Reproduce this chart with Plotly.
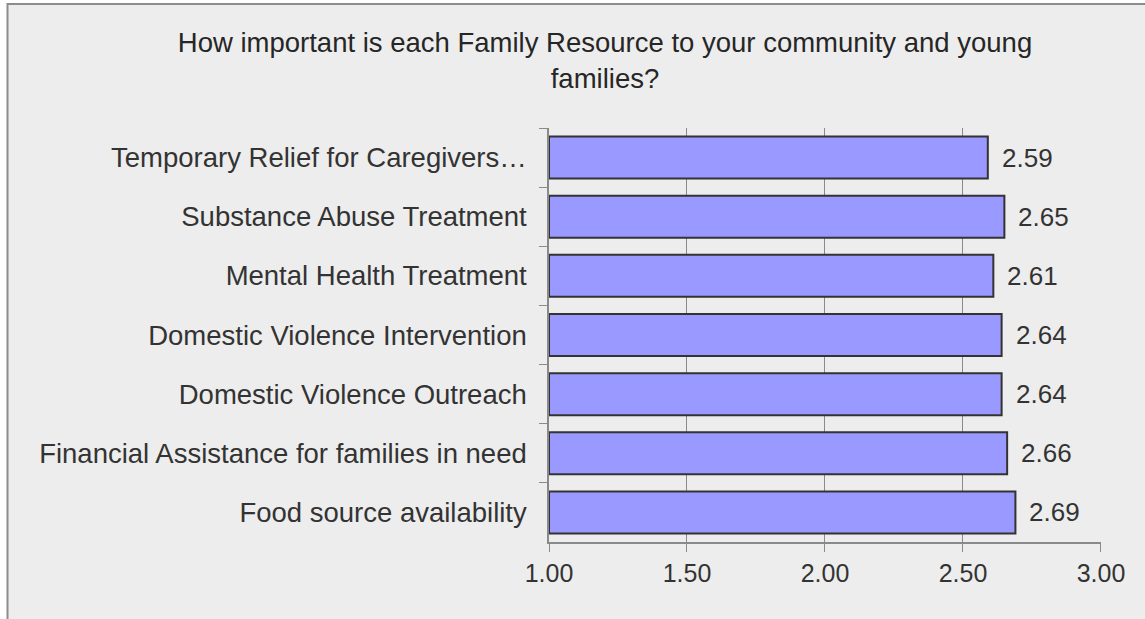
import plotly.graph_objects as go

# Family resources, listed top to bottom as they appear on the chart
resources = [
    "Temporary Relief for Caregivers…",
    "Substance Abuse Treatment",
    "Mental Health Treatment",
    "Domestic Violence Intervention",
    "Domestic Violence Outreach",
    "Financial Assistance for families in need",
    "Food source availability",
]
mean_scores = [2.59, 2.65, 2.61, 2.64, 2.64, 2.66, 2.69]
score_ticks = [1.0, 1.5, 2.0, 2.5, 3.0]

W, H = 1145, 619
L, R, T, B = 549, 44, 128, 77
plot_w, plot_h = W - L - R, H - T - B

TEXT = "#333333"
GRID = "#8a8a8a"
FONT = "Liberation Sans"

fig = go.Figure()
# bars start at the 1.00 baseline of the rating scale
fig.add_trace(go.Bar(
    x=[v - 1.0 for v in mean_scores],
    y=resources,
    base=1.0,
    orientation="h",
    width=0.71,
    marker=dict(color="#9999ff", line=dict(color="#333333", width=2)),
    hoverinfo="y",
))

# value labels to the right of each bar
for name, v in zip(resources, mean_scores):
    fig.add_annotation(
        x=v, y=name, xref="x", yref="y",
        text=f"{v:.2f}", showarrow=False,
        xanchor="left", yanchor="middle", xshift=12,
        font=dict(family=FONT, size=26, color=TEXT),
    )

# chart frame: light grey panel with a grey border on the top and left
def px_x(p):
    return (p - L) / plot_w

def px_y(p):
    return (H - B - p) / plot_h

fig.add_shape(
    type="rect", xref="paper", yref="paper", layer="below",
    x0=px_x(7.5), x1=px_x(W + 20), y0=px_y(H + 20), y1=px_y(4),
    fillcolor="#ededed", line=dict(color="#8c8c8c", width=2),
)

fig.update_layout(
    width=W, height=H,
    margin=dict(l=L, r=R, t=T, b=B, pad=0),
    paper_bgcolor="white",
    plot_bgcolor="rgba(0,0,0,0)",
    showlegend=False,
    title=dict(
        text="How important is each Family Resource to your community and young<br>families?",
        x=605 / W, xanchor="center", xref="container",
        y=1 - 52 / H, yanchor="top", yref="container",
        font=dict(family=FONT, size=27.5, color="#262626"),
    ),
    font=dict(family=FONT, size=27.5, color=TEXT),
)

fig.update_xaxes(
    range=[1.0, 3.0001],
    tickvals=score_ticks,
    ticktext=[f"{t:.2f}" for t in score_ticks],
    showgrid=True, gridcolor=GRID, gridwidth=1,
    showline=True, linecolor=GRID, linewidth=1.5,
    ticks="outside", ticklen=8, tickcolor=GRID, tickwidth=1,
    zeroline=False,
    tickfont=dict(family=FONT, size=25, color=TEXT),
)
fig.update_yaxes(
    autorange="reversed",
    showgrid=False,
    showline=True, linecolor=GRID, linewidth=1.5,
    ticks="outside", ticklen=8, tickcolor=GRID, tickwidth=1,
    tickson="boundaries",
    tickfont=dict(family=FONT, size=27.5, color=TEXT),
    ticklabelstandoff=15,
)

fig.write_html("out.html")
